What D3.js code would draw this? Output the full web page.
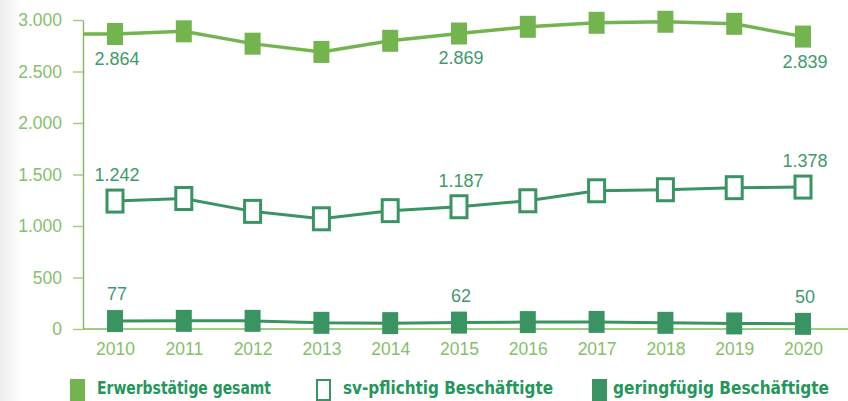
<!DOCTYPE html>
<html>
<head>
<meta charset="utf-8">
<script src="https://cdn.jsdelivr.net/npm/d3@7"></script>
<style>
  html, body { margin: 0; padding: 0; background: #ffffff; }
  svg { display: block; }
</style>
</head>
<body>
<svg id="chart" width="848" height="401"></svg>
<script>
// Years on the x axis
const years = [2010, 2011, 2012, 2013, 2014, 2015, 2016, 2017, 2018, 2019, 2020];

// Series values (in thousands)
const erwerbstaetige = [2864, 2890, 2770, 2690, 2798, 2869, 2934, 2973, 2983, 2963, 2839];
const svPflichtig    = [1242, 1267, 1142, 1070, 1149, 1187, 1245, 1342, 1352, 1372, 1378];
const geringfuegig   = [77, 79, 79, 60, 57, 62, 67, 69, 60, 54, 50];

// Value-axis ticks
const yTicks = [0, 500, 1000, 1500, 2000, 2500, 3000];

// Years whose values are written next to the markers
const labeledYears = [2010, 2015, 2020];

// Legend entries
const legendLabels = ["Erwerbstätige gesamt", "sv-pflichtig Beschäftigte", "geringfügig Beschäftigte"];

const colLight = "#74b44f";
const colDark = "#3a9461";
const colAxis = "#7dbb5b";
const colTickText = "#86c06a";
const colValueText = "#3f9a6b";
const colLegendText = "#24965b";

const de = d3.formatLocale({ decimal: ",", thousands: ".", grouping: [3], currency: ["", " €"] });
const fmt = de.format(",d");

const svg = d3.select("#chart");
const axisX = 83;

const x = d3.scalePoint().domain(years).range([115, 803]);
const y = d3.scaleLinear().domain([0, 3000]).range([329, 20]);

// soft grey shading along the left edge
const defs = svg.append("defs");
const grad = defs.append("linearGradient").attr("id", "edge").attr("x1", 0).attr("x2", 1);
grad.append("stop").attr("offset", 0).attr("stop-color", "#ededed");
grad.append("stop").attr("offset", 1).attr("stop-color", "#ffffff");
svg.append("rect").attr("x", 0).attr("y", 0).attr("width", 22).attr("height", 401).attr("fill", "url(#edge)");

// value axis
const yAxis = svg.append("g")
  .attr("transform", `translate(${axisX},0)`)
  .call(d3.axisLeft(y).tickValues(yTicks).tickSize(10).tickSizeOuter(0).tickPadding(11).tickFormat(fmt));
yAxis.select(".domain").attr("stroke", colAxis).attr("stroke-width", 1.4);
yAxis.selectAll(".tick line").attr("stroke", "#9ccb83").attr("stroke-width", 1.4);
yAxis.selectAll(".tick text")
  .attr("fill", colTickText)
  .attr("font-family", "Liberation Sans, Arial, sans-serif")
  .attr("font-size", 17.5);

// baseline running to the right edge
svg.append("line")
  .attr("x1", axisX).attr("x2", 848)
  .attr("y1", y(0)).attr("y2", y(0))
  .attr("stroke", colAxis).attr("stroke-width", 1.4);

// year labels
const xAxis = svg.append("g")
  .attr("transform", `translate(0,${y(0)})`)
  .call(d3.axisBottom(x).tickSize(0).tickPadding(14));
xAxis.select(".domain").remove();
xAxis.selectAll(".tick text")
  .attr("fill", colTickText)
  .attr("font-family", "Liberation Sans, Arial, sans-serif")
  .attr("font-size", 17.5);

const line = d3.line().x(d => d[0]).y(d => d[1]);
const pts = vals => years.map((yr, i) => [x(yr), y(vals[i])]);

// Erwerbstätige gesamt: line starts at the axis
svg.append("path")
  .attr("d", line([[axisX, y(erwerbstaetige[0])], ...pts(erwerbstaetige)]))
  .attr("fill", "none").attr("stroke", colLight).attr("stroke-width", 3.4);
svg.append("path")
  .attr("d", line(pts(svPflichtig)))
  .attr("fill", "none").attr("stroke", colDark).attr("stroke-width", 3);
svg.append("path")
  .attr("d", line(pts(geringfuegig)))
  .attr("fill", "none").attr("stroke", colDark).attr("stroke-width", 3);

const mw = 16, mh = 22;
function markers(vals, fill, stroke) {
  svg.append("g").selectAll("rect")
    .data(years)
    .join("rect")
    .attr("x", (d) => x(d) - mw / 2)
    .attr("y", (d, i) => y(vals[i]) - mh / 2)
    .attr("width", mw).attr("height", mh)
    .attr("fill", fill)
    .attr("stroke", stroke || "none")
    .attr("stroke-width", stroke ? 3 : 0);
}
markers(erwerbstaetige, colLight);
markers(svPflichtig, "#ffffff", colDark);
markers(geringfuegig, colDark);

function valueLabels(vals, dy) {
  svg.append("g").selectAll("text")
    .data(labeledYears)
    .join("text")
    .attr("x", d => x(d) + 2)
    .attr("y", d => y(vals[years.indexOf(d)]) + dy)
    .attr("text-anchor", "middle")
    .attr("fill", colValueText)
    .attr("font-family", "Liberation Sans, Arial, sans-serif")
    .attr("font-size", 18)
    .text(d => fmt(vals[years.indexOf(d)]));
}
valueLabels(erwerbstaetige, 31);
valueLabels(svPflichtig, -20);
valueLabels(geringfuegig, -21);

// legend
const legendItems = [
  { label: legendLabels[0], sx: 70, tx: 97, tw: 174, fill: colLight, stroke: null },
  { label: legendLabels[1], sx: 316, tx: 343, tw: 210, fill: "#ffffff", stroke: colDark },
  { label: legendLabels[2], sx: 592, tx: 613, tw: 216, fill: colDark, stroke: null }
];
const lg = svg.append("g");
legendItems.forEach(it => {
  lg.append("rect")
    .attr("x", it.sx + (it.stroke ? 1 : 0)).attr("y", 379 + (it.stroke ? 1 : 0))
    .attr("width", it.stroke ? 13 : 15).attr("height", it.stroke ? 20 : 22)
    .attr("fill", it.fill)
    .attr("stroke", it.stroke || "none")
    .attr("stroke-width", it.stroke ? 2 : 0);
  lg.append("text")
    .attr("x", it.tx).attr("y", 394)
    .attr("fill", colLegendText)
    .attr("font-family", "Liberation Sans Narrow, DejaVu Sans Condensed, Arial Narrow, sans-serif")
    .attr("font-weight", "bold")
    .attr("font-size", 18)
    .attr("textLength", it.tw)
    .attr("lengthAdjust", "spacingAndGlyphs")
    .text(it.label);
});
</script>
</body>
</html>
